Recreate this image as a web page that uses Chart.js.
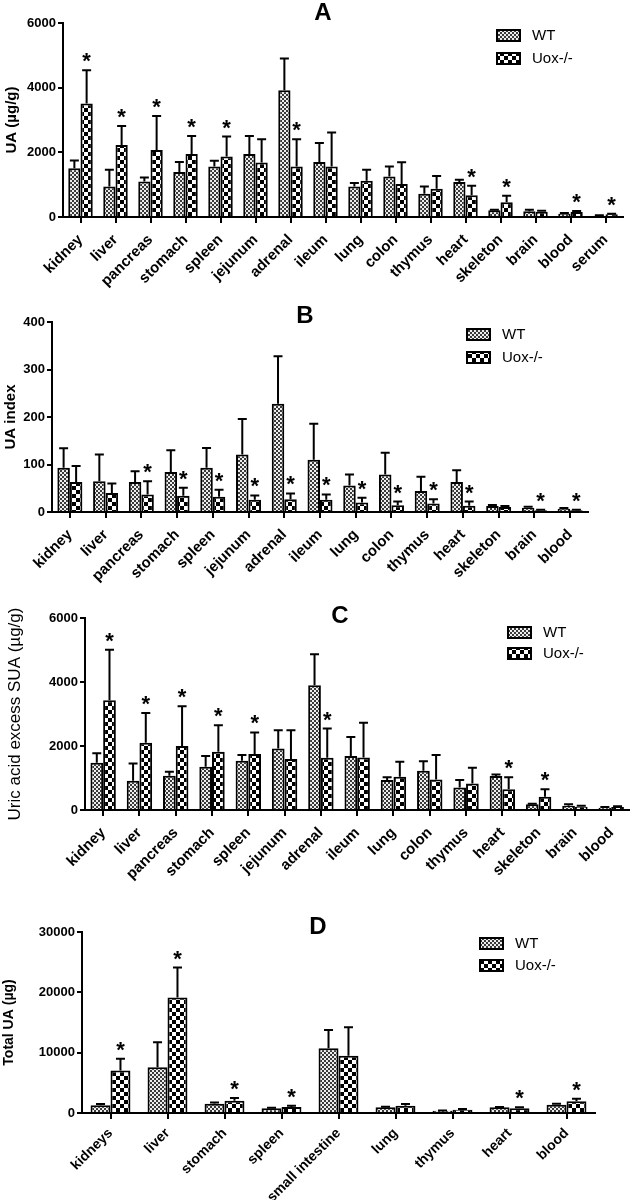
<!DOCTYPE html>
<html>
<head>
<meta charset="utf-8">
<script src="https://cdn.jsdelivr.net/npm/chart.js@4.4.0/dist/chart.umd.min.js"></script>
<style>
  body { margin: 0; background: #fff; }
  #wrap { position: relative; width: 632px; height: 1200px; overflow: hidden; }
  canvas { position: absolute; left: 0; }
</style>
</head>
<body>
<div id="wrap">
  <canvas id="chartA" width="632" height="300" style="top:0px"></canvas>
  <canvas id="chartB" width="632" height="330" style="top:270px"></canvas>
  <canvas id="chartC" width="632" height="330" style="top:570px"></canvas>
  <canvas id="chartD" width="632" height="320" style="top:880px"></canvas>
</div>
<script>
// ---------------------------------------------------------------- DATA ----------------------------------------------------------------
const seriesNames = ['WT', 'Uox-/-'];

// A - UA per gram tissue
const labelsA = ['kidney', 'liver', 'pancreas', 'stomach', 'spleen', 'jejunum', 'adrenal', 'ileum', 'lung', 'colon', 'thymus', 'heart', 'skeleton', 'brain', 'blood', 'serum'];
const wtA = [1510, 945, 1100, 1390, 1560, 1950, 3920, 1700, 945, 1250, 720, 1080, 205, 175, 103, 41];
const wtSdA = [236, 514, 122, 308, 176, 555, 980, 586, 103, 309, 226, 71, 21, 51, 20, 10];
const uoxA = [3510, 2230, 2075, 1950, 1870, 1685, 1560, 1560, 1120, 1020, 870, 670, 460, 165, 155, 82];
const uoxSdA = [1030, 586, 1048, 555, 616, 720, 845, 1050, 340, 670, 400, 300, 196, 30, 30, 21];
const starsA = [1, 1, 1, 1, 1, 0, 1, 0, 0, 0, 0, 1, 1, 0, 1, 1];

// B - UA index
const labelsB = ['kidney', 'liver', 'pancreas', 'stomach', 'spleen', 'jejunum', 'adrenal', 'ileum', 'lung', 'colon', 'thymus', 'heart', 'skeleton', 'brain', 'blood'];
const wtB = [93, 65, 63, 84, 93, 121, 228, 110, 56, 79, 44, 63, 12.6, 9, 7];
const wtSdB = [41, 56, 23, 46, 42, 75, 100, 76, 23, 46, 30, 25, 2, 2, 1.5];
const uoxB = [63, 40, 37, 34, 32, 26, 27, 26, 20, 14, 18, 13, 10.5, 3.5, 3.5];
const uoxSdB = [34, 20, 28, 17, 15, 9, 12, 11, 10, 8, 9, 9, 2, 1, 1];
const starsB = [0, 0, 1, 1, 1, 1, 1, 1, 1, 1, 1, 1, 0, 1, 1];

// C - uric acid excess over serum
const labelsC = ['kidney', 'liver', 'pancreas', 'stomach', 'spleen', 'jejunum', 'adrenal', 'ileum', 'lung', 'colon', 'thymus', 'heart', 'skeleton', 'brain', 'blood'];
const wtC = [1480, 915, 1070, 1350, 1540, 1925, 3900, 1685, 935, 1225, 700, 1060, 177, 135, 73];
const wtSdC = [290, 540, 125, 335, 177, 570, 965, 600, 85, 300, 240, 52, 20, 42, 20];
const uoxC = [3430, 2100, 2000, 1820, 1750, 1590, 1630, 1640, 1040, 955, 830, 645, 415, 104, 94];
const uoxSdC = [1580, 935, 1245, 830, 675, 905, 915, 1090, 470, 760, 490, 375, 230, 31, 20];
const starsC = [1, 1, 1, 1, 1, 0, 1, 0, 0, 0, 0, 1, 1, 0, 0];

// D - total UA per organ
const labelsD = ['kidneys', 'liver', 'stomach', 'spleen', 'small intestine', 'lung', 'thymus', 'heart', 'blood'];
const wtD = [1270, 7600, 1540, 770, 10730, 935, 385, 935, 1375];
const wtSdD = [220, 4130, 220, 110, 3030, 110, 50, 60, 165];
const uoxD = [7050, 19150, 2040, 990, 9470, 1210, 550, 770, 1930];
const uoxSdD = [1925, 4950, 440, 220, 4730, 275, 110, 165, 440];
const starsD = [1, 1, 1, 1, 0, 0, 0, 1, 1];

// ---------------------------------------------------------------- PATTERNS ----------------------------------------------------------------
const FONT = 'Arial, "Liberation Sans", Helvetica, sans-serif';

function makePattern(cell, dark, light) {
    const c = document.createElement('canvas');
    c.width = c.height = cell * 2;
    const g = c.getContext('2d');
    g.fillStyle = light;
    g.fillRect(0, 0, cell * 2, cell * 2);
    g.fillStyle = dark;
    g.fillRect(0, 0, cell, cell);
    g.fillRect(cell, cell, cell, cell);
    return g.createPattern(c, 'repeat');
}
const wtFill = makePattern(2, '#3a3a3a', '#eeeeee');
const uoxFill = makePattern(4, '#000', '#fff');

// ---------------------------------------------------------------- ERROR BARS, STARS, LEGEND, TITLE ----------------------------------------------------------------
function decoPlugin(p) {
    return {
        id: 'deco' + p.title,
        afterDatasetsDraw(chart) {
            const ctx = chart.ctx;
            const y = chart.scales.y;
            ctx.save();
            ctx.strokeStyle = '#000';
            ctx.fillStyle = '#000';
            ctx.lineWidth = 2;
            [p.wtSd, p.uoxSd].forEach((sd, i) => {
                const meta = chart.getDatasetMeta(i);
                meta.data.forEach((bar, j) => {
                    const v = chart.data.datasets[i].data[j];
                    const top = y.getPixelForValue(v + sd[j]);
                    ctx.beginPath();
                    ctx.moveTo(bar.x, bar.y);
                    ctx.lineTo(bar.x, top);
                    ctx.moveTo(bar.x - 4.5, top);
                    ctx.lineTo(bar.x + 4.5, top);
                    ctx.stroke();
                    if (i === 1 && p.stars[j]) {
                        ctx.font = 'bold 22px ' + FONT;
                        ctx.textAlign = 'center';
                        ctx.textBaseline = 'alphabetic';
                        ctx.fillText('*', bar.x, top - 2);
                    }
                });
            });

            // panel letter
            ctx.font = 'bold 24px ' + FONT;
            ctx.textAlign = 'center';
            ctx.textBaseline = 'middle';
            ctx.fillText(p.title, p.titleX, p.titleY);

            // legend
            const fills = [wtFill, uoxFill];
            seriesNames.forEach((name, i) => {
                const ly = p.legY + i * p.legGap;
                ctx.fillStyle = fills[i];
                ctx.fillRect(p.legX, ly - 5, 23, 11);
                ctx.strokeRect(p.legX, ly - 5, 23, 11);
                ctx.fillStyle = '#000';
                ctx.font = '15px ' + FONT;
                ctx.textAlign = 'left';
                ctx.fillText(name, p.legX + 35, ly + 1);
            });
            ctx.restore();
        }
    };
}

// ---------------------------------------------------------------- CHART BUILDER ----------------------------------------------------------------
function buildChart(id, labels, wt, uox, p) {
    const canvas = document.getElementById(id);
    const W = canvas.width, H = canvas.height;
    return new Chart(canvas, {
        type: 'bar',
        data: {
            labels: labels,
            datasets: [
                { label: seriesNames[0], data: wt, backgroundColor: wtFill, borderColor: '#000', borderWidth: 2, borderSkipped: 'bottom' },
                { label: seriesNames[1], data: uox, backgroundColor: uoxFill, borderColor: '#000', borderWidth: 2, borderSkipped: 'bottom' }
            ]
        },
        options: {
            responsive: false,
            animation: false,
            layout: { padding: { top: p.top, right: W - p.right, left: p.padLeft, bottom: 0 } },
            datasets: { bar: { categoryPercentage: 0.7, barPercentage: 1 } },
            plugins: {
                legend: { display: false },
                title: { display: false },
                tooltip: { enabled: false }
            },
            scales: {
                x: {
                    grid: { display: true, drawOnChartArea: false, offset: false, color: '#000', lineWidth: 2, tickLength: 6 },
                    border: { display: true, color: '#000', width: 2 },
                    ticks: { color: '#000', font: { family: FONT, size: p.xFont, weight: 'bold' }, minRotation: 45, maxRotation: 45, autoSkip: false, padding: p.xPad },
                    afterFit: s => { s.height = H - p.bottom; }
                },
                y: {
                    min: 0,
                    max: p.max,
                    ticks: { stepSize: p.step, color: '#000', font: { family: FONT, size: 13, weight: 'bold' }, padding: 2, callback: v => String(v) },
                    grid: { display: true, drawOnChartArea: false, color: '#000', lineWidth: 2, tickLength: 5 },
                    border: { display: true, color: '#000', width: 2 },
                    title: { display: true, text: p.yTitle, color: '#000', font: { family: FONT, size: p.yTitleSize, weight: p.yTitleWeight }, padding: 0 },
                    afterFit: s => { s.width = p.left - p.padLeft; }
                }
            }
        },
        plugins: [decoPlugin(p)]
    });
}

buildChart('chartA', labelsA, wtA, uoxA, {
    top: 23, bottom: 217, left: 63, right: 623, padLeft: 3, max: 6000, step: 2000, xFont: 15, xPad: 8,
    yTitle: 'UA (\u00b5g/g)', yTitleSize: 15, yTitleWeight: 'bold',
    title: 'A', titleX: 323, titleY: 13, legX: 497, legY: 35, legGap: 23,
    wtSd: wtSdA, uoxSd: uoxSdA, stars: starsA
});

buildChart('chartB', labelsB, wtB, uoxB, {
    top: 52, bottom: 242, left: 52, right: 588, padLeft: 2, max: 400, step: 100, xFont: 15, xPad: 8,
    yTitle: 'UA index', yTitleSize: 15, yTitleWeight: 'bold',
    title: 'B', titleX: 305, titleY: 46, legX: 467, legY: 64, legGap: 23,
    wtSd: wtSdB, uoxSd: uoxSdB, stars: starsB
});

buildChart('chartC', labelsC, wtC, uoxC, {
    top: 48, bottom: 240, left: 85, right: 630, padLeft: 5, max: 6000, step: 2000, xFont: 15, xPad: 8,
    yTitle: 'Uric acid excess SUA (\u00b5g/g)', yTitleSize: 17, yTitleWeight: 'normal',
    title: 'C', titleX: 340, titleY: 46, legX: 508, legY: 62, legGap: 21,
    wtSd: wtSdC, uoxSd: uoxSdC, stars: starsC
});

buildChart('chartD', labelsD, wtD, uoxD, {
    top: 52, bottom: 233, left: 82, right: 595, padLeft: 1, max: 30000, step: 10000, xFont: 14, xPad: 6,
    yTitle: 'Total UA (\u00b5g)', yTitleSize: 14, yTitleWeight: 'bold',
    title: 'D', titleX: 318, titleY: 47, legX: 480, legY: 63, legGap: 22,
    wtSd: wtSdD, uoxSd: uoxSdD, stars: starsD
});
</script>
</body>
</html>
